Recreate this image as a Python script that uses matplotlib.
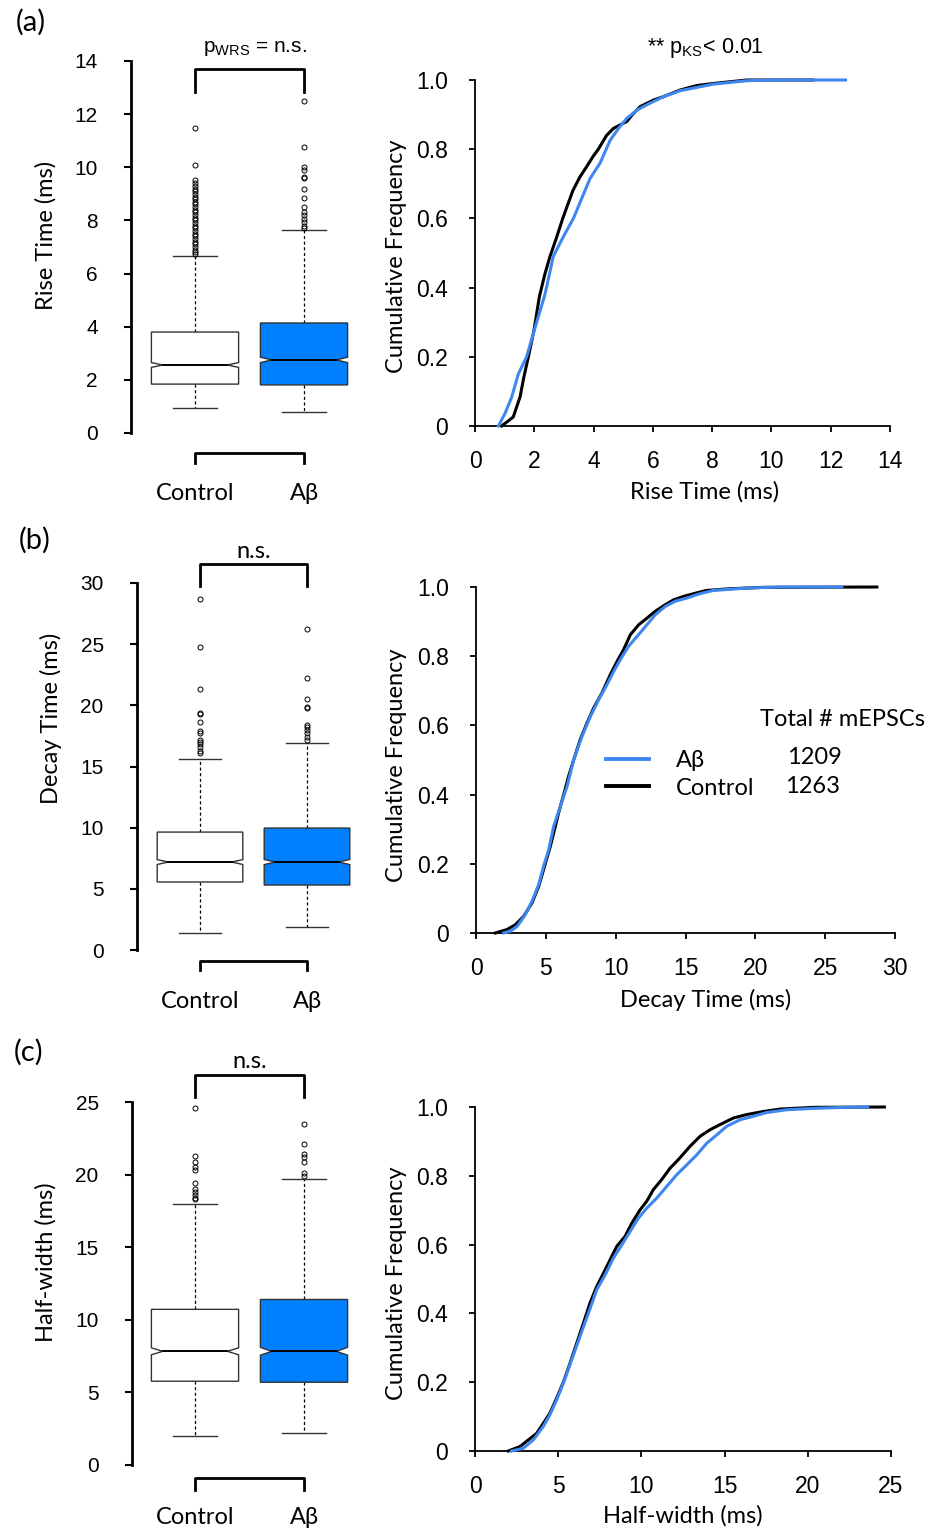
import matplotlib
matplotlib.use("Agg")
import matplotlib.pyplot as plt
import matplotlib.transforms as mtransforms
from matplotlib.lines import Line2D

plt.rcParams["font.family"] = ["Liberation Sans", "DejaVu Sans"]
LABEL_FONT = ["Lato", "Open Sans", "DejaVu Sans"]

groups = ["Control", "Aβ"]
n_events = [1263, 1209]

# ---- box plot summaries, [Control, Aβ] ----
rise_q1 = [1.84, 1.81]
rise_med = [2.56, 2.75]
rise_q3 = [3.80, 4.14]
rise_lo = [0.94, 0.79]
rise_hi = [6.66, 7.64]
rise_notch = [0.09, 0.10]
rise_out_ctrl = [11.48, 10.09, 9.52, 9.4, 9.3, 9.2, 9.1, 9.0, 8.9, 8.8, 8.7, 8.6,
                 8.5, 8.4, 8.3, 8.2, 8.1, 8.0, 7.9, 7.8, 7.7, 7.6, 7.5, 7.4, 7.3,
                 7.2, 7.1, 7.0, 6.9, 6.8, 6.75]
rise_out_ab = [12.5, 10.76, 10.0, 9.9, 9.65, 9.6, 9.2, 8.85, 8.5, 8.3, 8.2, 8.05,
               7.95, 7.8, 7.7]

decay_q1 = [5.56, 5.31]
decay_med = [7.19, 7.19]
decay_q3 = [9.64, 9.97]
decay_lo = [1.39, 1.88]
decay_hi = [15.6, 16.9]
decay_notch = [0.2, 0.21]
decay_out_ctrl = [28.7, 24.75, 21.3, 19.4, 19.3, 18.6, 17.9, 17.7, 17.2, 17.0,
                  16.8, 16.6, 16.3, 16.1]
decay_out_ab = [26.2, 22.2, 20.5, 19.9, 19.8, 18.4, 18.2, 18.0, 17.7, 17.4, 17.2]

half_q1 = [5.77, 5.70]
half_med = [7.83, 7.83]
half_q3 = [10.72, 11.4]
half_lo = [1.99, 2.2]
half_hi = [18.0, 19.7]
half_notch = [0.24, 0.27]
half_out_ctrl = [24.6, 21.3, 20.9, 20.5, 20.3, 19.4, 19.0, 18.8, 18.6, 18.4, 18.3]
half_out_ab = [23.5, 22.1, 21.4, 21.2, 20.9, 20.1, 19.9]

# ---- cumulative distributions (x in ms, y cumulative fraction) ----
rise_ctrl_x = [0.90, 1.29, 1.52, 1.65, 1.80, 1.99, 2.17, 2.36, 2.53, 2.76, 2.96, 3.30,
               3.54, 3.77, 3.99, 4.16, 4.44, 4.67, 4.89, 5.12, 5.31, 5.57, 6.02, 6.36,
               6.92, 7.48, 8.04, 9.17, 11.4]
rise_ctrl_y = [0, 0.026, 0.084, 0.142, 0.20, 0.277, 0.373, 0.44, 0.49, 0.547, 0.60, 0.68,
               0.72, 0.75, 0.78, 0.80, 0.84, 0.86, 0.87, 0.88, 0.90, 0.923, 0.942, 0.952,
               0.971, 0.984, 0.99, 1.0, 1.0]
rise_ab_x = [0.79, 1.01, 1.24, 1.46, 1.74, 2.08, 2.36, 2.64, 2.98, 3.32, 3.66, 3.88,
             4.22, 4.56, 4.84, 5.12, 5.46, 5.79, 6.36, 6.92, 8.04, 9.17, 10.3, 12.5]
rise_ab_y = [0, 0.036, 0.084, 0.15, 0.20, 0.30, 0.38, 0.49, 0.547, 0.60, 0.67, 0.715,
             0.76, 0.826, 0.86, 0.889, 0.913, 0.928, 0.952, 0.969, 0.988, 0.998, 1.0, 1.0]

decay_ctrl_x = [1.38, 2.22, 2.82, 3.41, 4.01, 4.49, 4.96, 5.32, 5.63, 5.97, 6.28, 6.63,
                6.99, 7.47, 7.95, 8.42, 9.02, 9.62, 10.1, 10.57, 11.05, 11.65, 12.24,
                12.84, 13.56, 14.15, 14.87, 15.8, 16.5, 18.2, 20.6, 28.7]
decay_ctrl_y = [0, 0.01, 0.024, 0.048, 0.087, 0.135, 0.20, 0.25, 0.30, 0.356, 0.40, 0.453,
                0.50, 0.56, 0.607, 0.65, 0.694, 0.747, 0.785, 0.819, 0.862, 0.891, 0.91,
                0.93, 0.949, 0.963, 0.973, 0.983, 0.99, 0.995, 0.999, 1.0]
decay_ab_x = [1.98, 2.46, 2.94, 3.53, 4.01, 4.49, 4.84, 5.2, 5.56, 6.04, 6.52, 6.99,
              7.59, 8.19, 8.78, 9.38, 9.86, 10.33, 10.93, 11.53, 12.24, 12.84, 13.56,
              14.27, 15.1, 16.06, 17.0, 19.4, 21.8, 26.2]
decay_ab_y = [0, 0.005, 0.019, 0.053, 0.092, 0.14, 0.193, 0.24, 0.308, 0.366, 0.424, 0.50,
              0.568, 0.626, 0.674, 0.718, 0.756, 0.79, 0.829, 0.857, 0.891, 0.92, 0.944,
              0.959, 0.968, 0.981, 0.99, 0.997, 1.0, 1.0]

half_ctrl_x = [2.0, 2.7, 3.2, 3.7, 4.1, 4.5, 4.9, 5.31, 5.71, 6.11, 6.51, 6.91, 7.31,
               7.72, 8.12, 8.52, 9.02, 9.42, 9.92, 10.32, 10.72, 11.22, 11.72, 12.22,
               12.93, 13.53, 14.13, 14.73, 15.53, 16.33, 17.33, 18.34, 20.34, 24.6]
half_ctrl_y = [0, 0.013, 0.032, 0.051, 0.08, 0.11, 0.153, 0.20, 0.255, 0.313, 0.371, 0.43,
               0.478, 0.517, 0.556, 0.595, 0.624, 0.662, 0.701, 0.726, 0.76, 0.789, 0.822,
               0.847, 0.886, 0.915, 0.934, 0.949, 0.968, 0.978, 0.987, 0.994, 0.999, 1.0]
half_ab_x = [2.2, 2.9, 3.5, 4.1, 4.5, 4.9, 5.31, 5.81, 6.31, 6.81, 7.31, 7.82, 8.32,
             8.82, 9.32, 9.82, 10.32, 10.92, 11.52, 12.12, 12.73, 13.33, 13.93, 14.53,
             15.13, 15.93, 16.73, 17.54, 18.74, 20.34, 22.3, 23.6]
half_ab_y = [0, 0.008, 0.032, 0.071, 0.105, 0.148, 0.197, 0.265, 0.333, 0.40, 0.468, 0.512,
             0.561, 0.599, 0.638, 0.677, 0.706, 0.735, 0.769, 0.803, 0.832, 0.861, 0.895,
             0.919, 0.944, 0.963, 0.973, 0.984, 0.992, 0.996, 0.999, 1.0]

BOX_COLORS = ["white", "#0080ff"]
LINE_BLUE = "#3f87f0"

W, H = 946, 1530
fig = plt.figure(figsize=(W / 100, H / 100), dpi=100)


def fx(x):
    return x / W


def fy(y):
    return 1 - y / H


def add_ax(l, t, r, b):
    return fig.add_axes([l / W, 1 - b / H, (r - l) / W, (b - t) / H])


def box_panel(lay, ymax, ystep, q1, med, q3, lo, hi, notch, out_ctrl, out_ab,
              ylabel, top_text, top_mathfont):
    spine_x, top, bottom, c1, c2 = lay["box"]
    ax = add_ax(spine_x, top, 375, bottom)
    s = c2 - c1
    ax.set_xlim(1 - (c1 - spine_x) / s, 2 + (375 - c2) / s)
    ax.set_ylim(0, ymax)

    stats = []
    for i, fl in enumerate([out_ctrl, out_ab]):
        stats.append(dict(med=med[i], q1=q1[i], q3=q3[i], whislo=lo[i],
                          whishi=hi[i], fliers=fl))
    ax.bxp(stats, positions=[1, 2], widths=0.8, showbox=False, capwidths=0.4,
           whiskerprops=dict(color="black", lw=0.9, linestyle=(0, (2.5, 2))),
           capprops=dict(color="#333333", lw=1.0),
           medianprops=dict(lw=0),
           flierprops=dict(marker="o", markersize=3.6, markerfacecolor="none",
                           markeredgecolor="black", markeredgewidth=0.7))

    hw, d = 0.4, 0.8 * 0.13
    for i, c in enumerate([1, 2]):
        xs = [c - hw, c + hw, c + hw, c + hw - d, c + hw, c + hw,
              c - hw, c - hw, c - hw + d, c - hw, c - hw]
        ys = [q1[i], q1[i], med[i] - notch[i], med[i], med[i] + notch[i], q3[i],
              q3[i], med[i] + notch[i], med[i], med[i] - notch[i], q1[i]]
        ax.fill(xs, ys, facecolor=BOX_COLORS[i], edgecolor="#333333", lw=1.0, zorder=3)
        ax.plot([c - hw + d, c + hw - d], [med[i], med[i]], color="black", lw=1.4, zorder=4)

    for side in ["top", "right", "bottom"]:
        ax.spines[side].set_visible(False)
    ax.spines["left"].set_linewidth(2)
    ax.set_xticks([])
    ax.set_yticks(range(0, ymax + 1, ystep))
    ax.tick_params(axis="y", length=5, width=1.5, pad=19, labelsize=15)

    # significance bracket and group bracket
    h = bottom - top
    tr = mtransforms.blended_transform_factory(ax.transData, ax.transAxes)
    bt, bl = lay["bracket_top"]
    ax.plot([1, 1, 2, 2], [(bottom - bl) / h, (bottom - bt) / h, (bottom - bt) / h,
                           (bottom - bl) / h], color="black", lw=2, transform=tr,
            clip_on=False)
    gt, gl = lay["bracket_bottom"]
    ax.plot([1, 1, 2, 2], [(bottom - gl) / h, (bottom - gt) / h, (bottom - gt) / h,
                           (bottom - gl) / h], color="black", lw=2, transform=tr,
            clip_on=False)
    tx, ty = lay["top_text"]
    if top_mathfont:
        fig.text(fx(tx), fy(ty), top_text, ha="center", va="center", fontsize=15)
    else:
        fig.text(fx(tx), fy(ty), top_text, ha="center", va="center", fontsize=17,
                 family=LABEL_FONT)

    gy = lay["group_y"]
    for c, g in zip([1, 2], groups):
        ax.text(c, (bottom - gy) / h, g, transform=tr, ha="center", va="center",
                fontsize=17, family=LABEL_FONT)

    ax.set_ylabel(ylabel, fontsize=17, family=LABEL_FONT)
    lx, ly = lay["box_ylabel"]
    ax.yaxis.set_label_coords(fx(lx + 12), fy(ly), transform=fig.transFigure)
    return ax


def cdf_panel(lay, xmax, xstep, ctrl_x, ctrl_y, ab_x, ab_y, xlabel):
    l, r, top, bottom = lay["cdf"]
    ax = add_ax(l, top, r, bottom)
    ax.plot(ctrl_x, ctrl_y, color="black", lw=2.2, clip_on=False, zorder=3)
    ax.plot(ab_x, ab_y, color=LINE_BLUE, lw=2.2, clip_on=False, zorder=4)
    ax.set_xlim(0, xmax)
    ax.set_ylim(0, 1)
    ax.set_xticks(range(0, xmax + 1, xstep))
    ax.set_yticks([0, 0.2, 0.4, 0.6, 0.8, 1.0], ["0", "0.2", "0.4", "0.6", "0.8", "1.0"])
    for side in ["top", "right"]:
        ax.spines[side].set_visible(False)
    for side in ["left", "bottom"]:
        ax.spines[side].set_linewidth(1.3)
    ax.tick_params(axis="y", length=4.5, width=1.3, pad=15, labelsize=16.5)
    ax.tick_params(axis="x", length=4.5, width=1.3, pad=13, labelsize=16.5)
    ax.set_ylabel("Cumulative Frequency", fontsize=17, family=LABEL_FONT)
    lx, ly = lay["cdf_ylabel"]
    ax.yaxis.set_label_coords(fx(lx + 12), fy(ly), transform=fig.transFigure)
    ax.set_xlabel(xlabel, fontsize=17, family=LABEL_FONT)
    lx, ly = lay["cdf_xlabel"]
    ax.xaxis.set_label_coords(fx(lx), fy(ly - 12), transform=fig.transFigure)
    return ax


lay_a = dict(box=(131, 61, 433, 195, 304), bracket_top=(69, 92), bracket_bottom=(453, 463),
             top_text=(255, 48), group_y=493, box_ylabel=(45, 235),
             cdf=(475, 890, 80, 426), cdf_ylabel=(395, 256), cdf_xlabel=(705, 493))
lay_b = dict(box=(137, 583, 950, 200, 307), bracket_top=(564, 586), bracket_bottom=(961, 970),
             top_text=(254, 551), group_y=1001, box_ylabel=(50, 718),
             cdf=(476, 895, 587, 933), cdf_ylabel=(395, 765), cdf_xlabel=(706, 1001))
lay_c = dict(box=(132, 1102, 1465, 195, 304), bracket_top=(1075, 1097), bracket_bottom=(1478, 1490),
             top_text=(250, 1062), group_y=1517, box_ylabel=(45, 1262),
             cdf=(475, 891, 1107, 1451), cdf_ylabel=(395, 1283), cdf_xlabel=(683, 1517))

box_panel(lay_a, 14, 2, rise_q1, rise_med, rise_q3, rise_lo, rise_hi, rise_notch,
          rise_out_ctrl, rise_out_ab, "Rise Time (ms)",
          r"p$_{\mathregular{WRS}}$ = n.s.", True)
cdf_panel(lay_a, 14, 2, rise_ctrl_x, rise_ctrl_y, rise_ab_x, rise_ab_y, "Rise Time (ms)")
fig.text(fx(705), fy(48), r"** p$_{\mathregular{KS}}$< 0.01", ha="center", va="center",
         fontsize=15.5)

box_panel(lay_b, 30, 5, decay_q1, decay_med, decay_q3, decay_lo, decay_hi, decay_notch,
          decay_out_ctrl, decay_out_ab, "Decay Time (ms)", "n.s.", False)
ax_b = cdf_panel(lay_b, 30, 5, decay_ctrl_x, decay_ctrl_y, decay_ab_x, decay_ab_y,
                 "Decay Time (ms)")

box_panel(lay_c, 25, 5, half_q1, half_med, half_q3, half_lo, half_hi, half_notch,
          half_out_ctrl, half_out_ab, "Half-width (ms)", "n.s.", False)
cdf_panel(lay_c, 25, 5, half_ctrl_x, half_ctrl_y, half_ab_x, half_ab_y, "Half-width (ms)")

# legend on the decay panel
handles = [Line2D([], [], color=LINE_BLUE, lw=2.8), Line2D([], [], color="black", lw=2.8)]
ax_b.legend(handles, [groups[1], groups[0]], loc="upper left",
            bbox_to_anchor=(fx(606), fy(750)), bbox_transform=fig.transFigure,
            frameon=False, borderpad=0, borderaxespad=0, handlelength=1.8,
            handletextpad=1.15, labelspacing=0.28,
            prop=dict(family=LABEL_FONT, size=17))
fig.text(fx(760), fy(720), "Total # mEPSCs", ha="left", va="center", fontsize=17,
         family=LABEL_FONT)
fig.text(fx(787), fy(758), str(n_events[1]), ha="left", va="center", fontsize=17,
         family=LABEL_FONT)
fig.text(fx(785), fy(787), str(n_events[0]), ha="left", va="center", fontsize=17,
         family=LABEL_FONT)

for letter, x, y in [("(a)", 31, 22), ("(b)", 35, 540), ("(c)", 29, 1052)]:
    fig.text(fx(x), fy(y), letter, ha="center", va="center", fontsize=21, family=LABEL_FONT)

fig.savefig("out.png", dpi=100)
